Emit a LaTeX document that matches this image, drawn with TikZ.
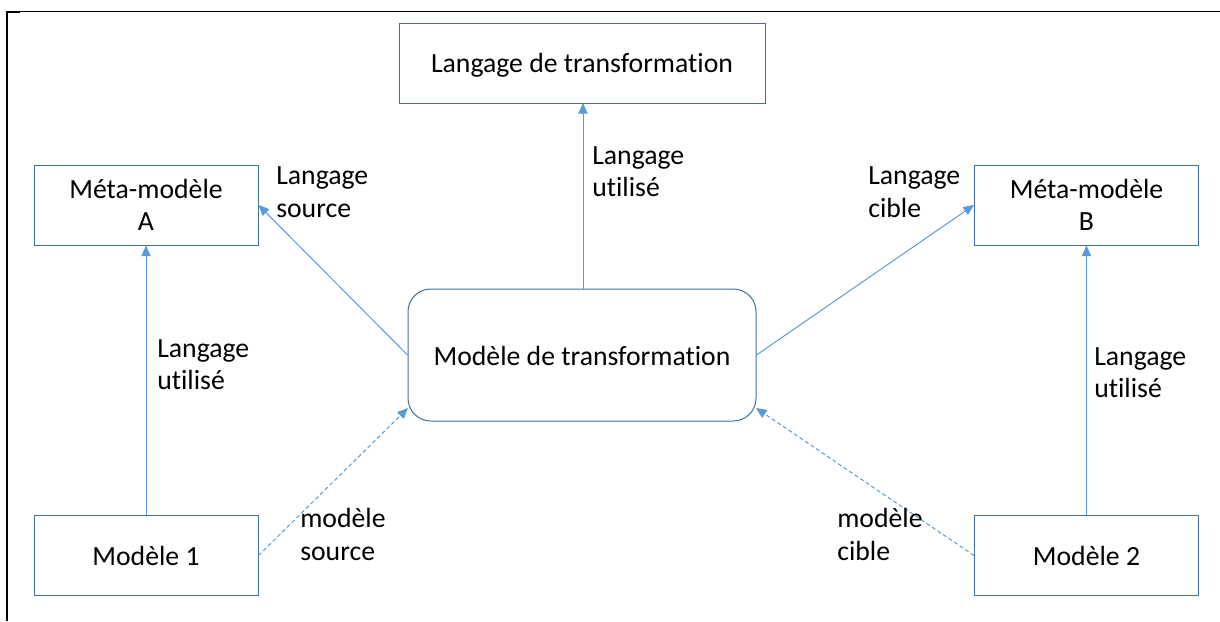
\documentclass[tikz,border=0pt]{standalone}
\usepackage{fontspec}
\setmainfont[Ligatures=NoCommon]{Carlito}
\usetikzlibrary{arrows.meta}
\definecolor{boxblue}{HTML}{41719C}
\definecolor{linkblue}{HTML}{5B9BD5}
\tikzset{
  x=0.75pt,y=-0.75pt,
  labeltext/.style={font=\fontsize{20.8}{24.5}\selectfont,inner sep=0pt,anchor=north west,align=left},
  boxnode/.style={draw=boxblue,line width=0.75pt,inner sep=0pt,font=\fontsize{20.8}{24.5}\selectfont,align=center,anchor=center},
  link/.style={draw=linkblue,line width=0.75pt,-{Triangle[length=8pt,width=7pt]}},
  dashlink/.style={link,dash pattern=on 3pt off 2pt},
  frameline/.style={draw=black}
}
\begin{document}
\begin{tikzpicture}
\useasboundingbox (0,0) rectangle (1220,621);
\draw[frameline,line width=1.1pt] (7,11.5) -- (1220,11.5);
\draw[frameline,line width=1.6pt] (7,11) -- (7,621);
\draw[frameline,line width=1.6pt] (7,12) -- (20,12);

\node[boxnode,minimum width=274.5pt,minimum height=60pt] (lang) at (582,63) {\raisebox{0pt}[\dimexpr\height+3pt\relax][\depth]{Langage de transformation}};
\node[boxnode,minimum width=168pt,minimum height=60pt] (metaA) at (146,205) {Méta-modèle\\A};
\node[boxnode,minimum width=168pt,minimum height=60pt] (metaB) at (1086.5,205) {Méta-modèle\\B};
\node[boxnode,minimum width=168pt,minimum height=60.5pt] (m1) at (146,555.5) {Modèle 1};
\node[boxnode,minimum width=168pt,minimum height=60.5pt] (m2) at (1086.5,555.5) {Modèle 2};
\node[boxnode,rounded corners=17pt,minimum width=261pt,minimum height=99pt] (trans) at (582,355) {\raisebox{0pt}[\dimexpr\height+1.5pt\relax][\depth]{Modèle de transformation}};

\coordinate (transTop) at (583,289);
\coordinate (langBot) at (583,103);
\coordinate (transSW) at (408,408);
\coordinate (transSE) at (756,408);

\draw[link] (transTop) -- (langBot);
\draw[link] (trans.west) -- (metaA.east);
\draw[link] (trans.east) -- (metaB.west);
\draw[link] (m1.north) -- (metaA.south);
\draw[link] (m2.north) -- (metaB.south);
\draw[dashlink] (m1.east) -- (transSW);
\draw[dashlink] (m2.west) -- (transSE);

\node[labeltext] (l1) at (592,146) {Langage\\utilisé};
\node[labeltext] (l2) at (276,166.5) {Langage\\source};
\node[labeltext] (l3) at (868,166.5) {Langage\\cible};
\node[labeltext] (l4) at (157,339) {Langage\\utilisé};
\node[labeltext] (l5) at (1094,347) {Langage\\utilisé};
\node[labeltext] (l6) at (300,508) {modèle\\source};
\node[labeltext] (l7) at (837,508) {modèle\\cible};
\end{tikzpicture}
\end{document}
